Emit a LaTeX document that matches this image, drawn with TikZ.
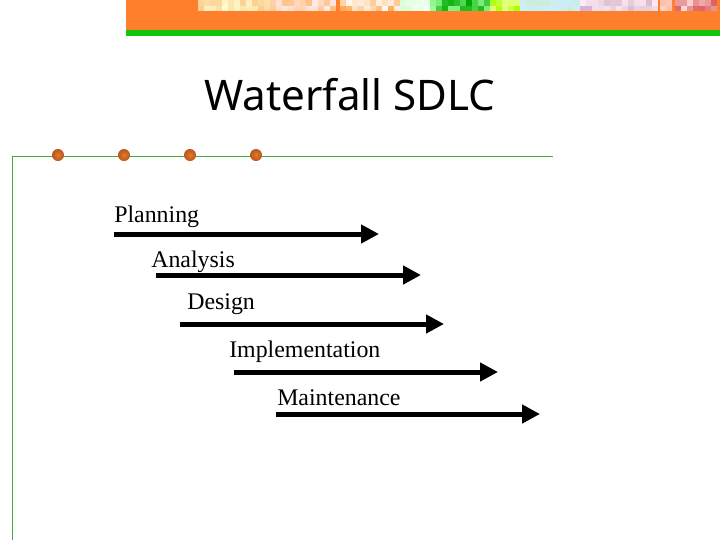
\documentclass[tikz,border=0pt]{standalone}
\usepackage{fontspec}
\setmainfont{Liberation Serif}
\newfontfamily\titlefont{Noto Sans}
\usetikzlibrary{arrows.meta}
\definecolor{bandorange}{RGB}{255,128,44}
\definecolor{bandgreen}{RGB}{18,198,12}
\definecolor{framegreen}{RGB}{70,170,60}
\definecolor{dotorange}{RGB}{236,118,40}
\tikzset{
  phase/.style={font=\fontsize{17.9}{20}\selectfont, anchor=base west, inner sep=0pt},
  span/.style={line width=3.75pt, -{Triangle[length=13.5pt, width=13.5pt]}},
  dot/.style={circle, inner sep=0pt, minimum size=9pt, inner color=dotorange, outer color=dotorange!75!black},
}
\begin{document}
\begin{tikzpicture}[x=0.75pt, y=-0.75pt]
  \useasboundingbox (0, 0) rectangle (720, 540);
  \fill[bandorange] (126, 0) rectangle (720, 30);
  \fill[bandgreen] (126, 30) rectangle (720, 36);
  % flower strip along the top
  \pgfmathsetseed{7}
  \foreach \xa/\xb/\cola/\colb in {198/270/yellow!50!white/orange!40!white, 270/340/pink!70!white/orange!50!white,
      340/400/orange!70!white/white, 400/430/white/green!25!white, 430/490/green!45!black/white!60!green,
      490/520/green!50!yellow/white!70!yellow, 520/580/white!80!yellow/white!80!cyan,
      580/660/magenta!25!white/violet!30!white, 660/675/orange!60!white/red!40!white, 675/720/red!75!black/white!60!pink}
    \foreach \x in {\xa, \numexpr\xa+6\relax, ..., \numexpr\xb-6\relax}
      \foreach \y in {0, 5.5} {
        \pgfmathsetmacro\mixval{int(random(0,100))}
        \fill[\cola!\mixval!\colb] (\x, \y) rectangle ++(6, 5.5);
      }
  \draw[framegreen, line width=0.75pt] (12.5, 540) -- (12.5, 156) -- (553, 156);
  \foreach \x/\name in {58/a, 124/b, 190/c, 256/d}
    \node[dot] (dot\name) at (\x, 155) {};
  \node[font=\titlefont\fontsize{31.6}{40}\selectfont, anchor=base west, inner sep=0pt] (title) at (204, 110) {Waterfall SDLC};
  \draw (114, 222) node[phase] (plan) {Planning}
        (151, 267) node[phase] (ana) {Analysis}
        (187, 309) node[phase] (des) {Design}
        (229, 357) node[phase] (impl) {Implementation}
        (277, 405) node[phase] (maint) {Maintenance};
  \coordinate (plana) at (114, 234);
  \coordinate (planb) at (379, 234);
  \coordinate (anaa) at (156, 275);
  \coordinate (anab) at (421, 275);
  \coordinate (desa) at (180, 324);
  \coordinate (desb) at (444, 324);
  \coordinate (impla) at (234, 372);
  \coordinate (implb) at (498, 372);
  \coordinate (mainta) at (276, 414);
  \coordinate (maintb) at (540, 414);
  \draw[span] (plana) -- (planb);
  \draw[span] (anaa) -- (anab);
  \draw[span] (desa) -- (desb);
  \draw[span] (impla) -- (implb);
  \draw[span] (mainta) -- (maintb);
\end{tikzpicture}
\end{document}
